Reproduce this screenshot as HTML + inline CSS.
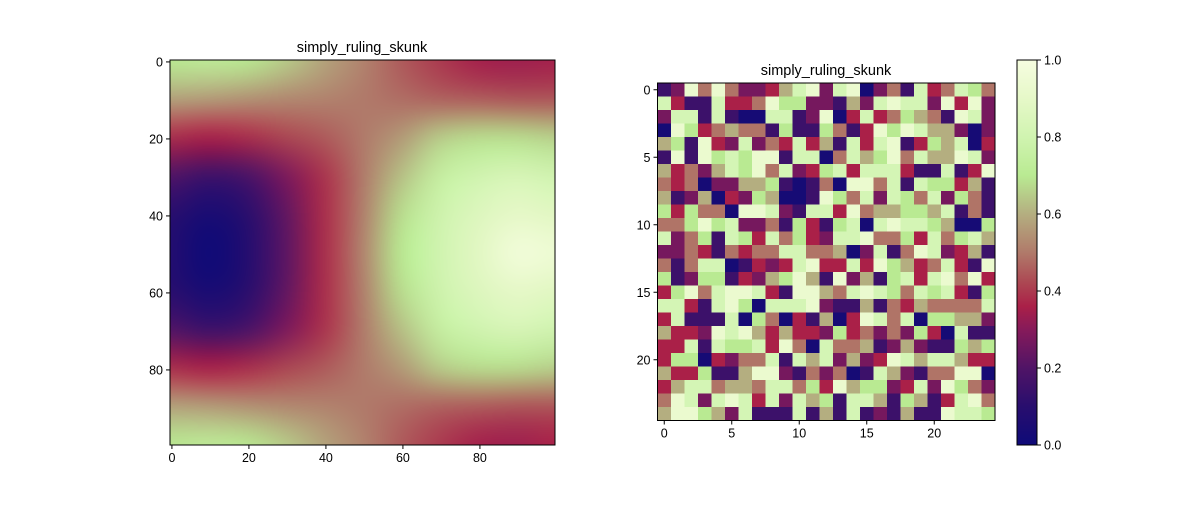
<!DOCTYPE html>
<html><head><meta charset="utf-8"><style>
body{margin:0;background:#fff;width:1200px;height:500px;overflow:hidden;font-family:"Liberation Sans",sans-serif}
svg text{font-family:"Liberation Sans",sans-serif;fill:#000}
</style></head><body>
<svg id="fig" width="1200" height="500" xmlns="http://www.w3.org/2000/svg">
<rect width="1200" height="500" fill="#fff"/>
<foreignObject x="170" y="60" width="385" height="385"><canvas id="cv" xmlns="http://www.w3.org/1999/xhtml" width="385" height="385" style="display:block"></canvas></foreignObject>
<g id="right"></g>
<g id="cbar"></g>
<g id="axes"></g>
<text x="362" y="52" font-size="14.5" text-anchor="middle">simply_ruling_skunk</text>
<text x="826" y="75" font-size="14.5" text-anchor="middle">simply_ruling_skunk</text>
</svg>
<script>
// Left field samples at x,y = 0,10,...,90,99
const fieldCoords=[0,10,20,30,40,50,60,70,80,90,99];
const fieldRows=[
[0.70,0.72,0.70,0.65,0.58,0.52,0.45,0.40,0.35,0.34,0.35],
[0.58,0.57,0.55,0.53,0.52,0.50,0.48,0.46,0.45,0.44,0.44],
[0.38,0.36,0.38,0.42,0.45,0.50,0.56,0.65,0.68,0.68,0.66],
[0.20,0.15,0.18,0.28,0.39,0.50,0.63,0.75,0.80,0.83,0.80],
[0.10,0.04,0.10,0.23,0.38,0.51,0.68,0.79,0.86,0.90,0.88],
[0.08,0.00,0.08,0.22,0.38,0.52,0.70,0.80,0.88,0.97,0.95],
[0.10,0.04,0.10,0.23,0.38,0.51,0.68,0.79,0.86,0.90,0.88],
[0.20,0.15,0.18,0.28,0.39,0.50,0.63,0.75,0.80,0.83,0.80],
[0.38,0.36,0.38,0.42,0.45,0.50,0.56,0.65,0.68,0.68,0.66],
[0.58,0.57,0.55,0.53,0.52,0.50,0.48,0.46,0.45,0.44,0.44],
[0.70,0.72,0.70,0.65,0.58,0.52,0.45,0.40,0.35,0.34,0.36]];
// Right grid: level codes per row
const levelCodes={D:0.03,P:0.15,M:0.27,R:0.36,S:0.49,T:0.6,G:0.7,L:0.82,Y:0.93};
const gridRows=[
"PMYSYSMMRTLYMLYDMSPLRSLGS",
"LRPPLRRSYGGMMPTMLYLLMYRYM",
"MLLPLPDDLLPMYDRLRSGTSPYLM",
"DYGRSTSSPGPPGSPRYGYLTTMDM",
"TGPYRMLMSRLRTPLRLYPRGTLDR",
"PYPYGLGYYPLLDSLTGYSLTTYLM",
"TRSMTLGYSLMRGLRLLLRPPLPRY",
"SRSDMMTTGPDPSDYYSLPLGGRTP",
"TPMTDRMGTDDPYGSLMLGSLMGSP",
"GRGSSDYYLMPLLRYSTTGGTLPSP",
"SSGYGLMMSPGRPGLDLYLLGTDDG",
"LMSGPLGRLSGRMLLYSSGRLSGLT",
"MMSRPSRSSLLSSTDMLPSYLMRTP",
"SPSLLDPRMRLYRRLRYGTRSLRPY",
"GPMGGPRMTGYTPYMTPGLRLYSYR",
"RGYSLYYLRPYYTSLYLGSLGLRPG",
"LLRPLYGDLLLYMPPTPSRTSSSSL",
"RLPPPLDGSDRPTDRYLSLDGGTTM",
"TRRMYLYTRTRRMGRSMSMGRDLPP",
"RRLPLGGLRYSDLSSTPMTMPPGTG",
"RGGDRMSSLPLTLMTMRYLTLLTRR",
"TRRGPPTYYMPSMSDPLTMPSSYYD",
"RTLLSTTSLLSGRYTGGMRLMYGSM",
"SYLMLYLRLMLTGPLLTPGTPRLYS",
"TYYGTMLPPPLPTPLPMPTPPYLLG"];
const xTicksL=[0,20,40,60,80], yTicksL=[0,20,40,60,80];
const xTicksR=[0,5,10,15,20], yTicksR=[0,5,10,15,20];
const cbTicks=[0,0.2,0.4,0.6,0.8,1.0];

const cmapStops=[[0,[14,10,120]],[0.1,[40,14,110]],[0.2,[80,20,102]],[0.3,[134,26,90]],[0.36,[170,32,72]],[0.42,[172,70,82]],[0.5,[176,122,106]],[0.6,[180,174,128]],[0.7,[185,234,146]],[0.8,[208,244,176]],[0.9,[230,248,200]],[1,[246,253,224]]];
function cmap(v){v=Math.max(0,Math.min(1,v));for(let i=1;i<cmapStops.length;i++){const[a,ca]=cmapStops[i-1],[b,cb]=cmapStops[i];if(v<=b){const t=(v-a)/(b-a);return ca.map((c,k)=>Math.round(c+(cb[k]-c)*t));}}return cmapStops[cmapStops.length-1][1];}
const hex=c=>'rgb('+c.join(',')+')';
const NS='http://www.w3.org/2000/svg';
function el(tag,attrs,parent){const e=document.createElementNS(NS,tag);for(const k in attrs)e.setAttribute(k,attrs[k]);parent.appendChild(e);return e;}

// Left: small canvas then smooth upscale
const L={x0:170,y0:60,w:385,h:385,n:100};
const lx=v=>L.x0+(v+0.5)*L.w/L.n, ly=v=>L.y0+(v+0.5)*L.h/L.n;
(function(){
 const n=fieldCoords.length, src=document.createElement('canvas');src.width=n;src.height=n;
 const sc=src.getContext('2d'),img=sc.createImageData(n,n);
 fieldRows.forEach((row,r)=>row.forEach((v,c)=>{const col=cmap(v),i=(r*n+c)*4;img.data[i]=col[0];img.data[i+1]=col[1];img.data[i+2]=col[2];img.data[i+3]=255;}));
 sc.putImageData(img,0,0);
 const ctx=document.getElementById('cv').getContext('2d');ctx.imageSmoothingEnabled=true;ctx.imageSmoothingQuality='high';
 const cw=L.w/(n-1);
 ctx.drawImage(src,-cw/2,-cw/2,L.w+cw,L.h+cw);
})();

// Right grid
const R={x0:657.5,y0:83,cell:13.5,n:25};
const rx=v=>R.x0+(v+0.5)*R.cell, ry=v=>R.y0+(v+0.5)*R.cell;
const rg=document.getElementById('right');
gridRows.forEach((row,r)=>{[...row].forEach((ch,c)=>{
 const v=levelCodes[ch];
 const e=el('rect',{x:rx(c)-R.cell/2,y:ry(r)-R.cell/2,width:R.cell+0.4,height:R.cell+0.4,fill:hex(cmap(v))},rg);
 
 
});});

// Colorbar
const C={x0:1017,y0:60,w:20,h:385};
const cy=v=>C.y0+C.h*(1-v);
const cg=document.getElementById('cbar');
for(let i=0;i<C.h;i++){el('rect',{x:C.x0,y:C.y0+i,width:C.w,height:1.2,fill:hex(cmap(1-(i+0.5)/C.h))},cg);}
el('rect',{x:C.x0,y:C.y0,width:C.w,height:C.h,fill:'none',stroke:'#000','stroke-width':1},cg);
cbTicks.forEach(t=>{el('line',{x1:C.x0+C.w,x2:C.x0+C.w+4,y1:cy(t),y2:cy(t),stroke:'#000'},cg);
 const tx=el('text',{x:C.x0+C.w+7,y:cy(t)+4.5,'font-size':12.5},cg);tx.textContent=t.toFixed(1);
 
 });

// Axes frames & ticks
const ag=document.getElementById('axes');
function frame(x,y,w,h){el('rect',{x,y,width:w,height:h,fill:'none',stroke:'#000','stroke-width':1},ag);}
frame(L.x0,L.y0,L.w,L.h);frame(R.x0,R.y0,R.cell*R.n,R.cell*R.n);
function xt(ticks,f,yb){ticks.forEach(t=>{el('line',{x1:f(t),x2:f(t),y1:yb,y2:yb+4,stroke:'#000'},ag);const e=el('text',{x:f(t),y:yb+17,'font-size':12.5,'text-anchor':'middle'},ag);e.textContent=t;
 
 });}
function yt(ticks,f,xl){ticks.forEach(t=>{el('line',{x1:xl-4,x2:xl,y1:f(t),y2:f(t),stroke:'#000'},ag);const e=el('text',{x:xl-7,y:f(t)+4.5,'font-size':12.5,'text-anchor':'end'},ag);e.textContent=t;
 
 });}
xt(xTicksL,lx,L.y0+L.h);yt(yTicksL,ly,L.x0);
xt(xTicksR,rx,R.y0+R.cell*R.n);yt(yTicksR,ry,R.x0);
</script>
</body></html>
